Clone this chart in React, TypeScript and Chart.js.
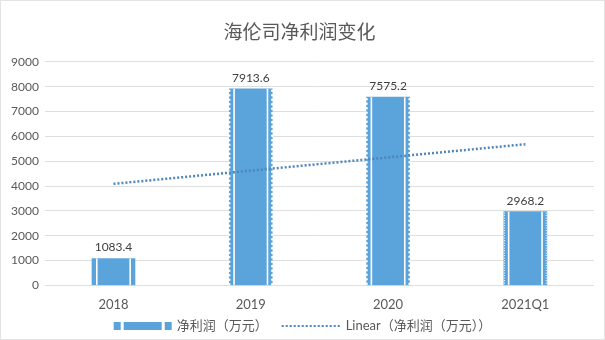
import React, { useEffect, useRef } from "react";
import { Chart, registerables } from "chart.js";

Chart.register(...registerables);

const chartTitle = "海伦司净利润变化";
const categories = ["2018", "2019", "2020", "2021Q1"];
const profitValues = [1083.4, 7913.6, 7575.2, 2968.2];
const trendValues = [4087.7, 4619.3, 5150.9, 5682.5];
const barSeriesName = "净利润（万元）";
const lineSeriesName = "Linear（净利润（万元））";
const yMin = 0;
const yMax = 9000;
const yStep = 1000;

const BAR_COLOR = "#5ba3db";
const LINE_COLOR = "#4f86ba";
const TEXT_COLOR = "#595959";
const FONT = "Lato, 'Noto Sans CJK SC', sans-serif";

const barDecor = {
  id: "barDecor",
  afterDatasetDraw(chart: any, args: any) {
    const meta = args.meta;
    if (meta.type !== "bar") return;
    const ctx = chart.ctx;
    ctx.save();
    meta.data.forEach((bar: any, i: number) => {
      const half = bar.width / 2;
      const left = bar.x - half;
      const right = bar.x + half;
      const top = bar.y;
      const bottom = bar.base;
      ctx.fillStyle = "#ffffff";
      ctx.fillRect(left + 4, top, 1.6, bottom - top);
      ctx.fillRect(right - 5.6, top, 1.6, bottom - top);
      if (i === 1 || i === 2) {
        for (let y = top + 2; y < bottom; y += 4.5) {
          ctx.beginPath();
          ctx.arc(left, y, 1.3, 0, Math.PI * 2);
          ctx.arc(right, y, 1.3, 0, Math.PI * 2);
          ctx.fill();
        }
      } else if (i === 3) {
        for (let y = top + 1; y < bottom; y += 2.5) {
          ctx.fillRect(left, y, 1.2, 0.9);
          ctx.fillRect(right - 1.2, y, 1.2, 0.9);
        }
      }
    });
    ctx.restore();
  },
};

const valueLabels = {
  id: "valueLabels",
  afterDatasetsDraw(chart: any) {
    const ctx = chart.ctx;
    chart.data.datasets.forEach((ds: any, di: number) => {
      const meta = chart.getDatasetMeta(di);
      if (meta.type !== "bar") return;
      ctx.save();
      ctx.font = `12px ${FONT}`;
      ctx.fillStyle = "#404040";
      ctx.textAlign = "center";
      ctx.textBaseline = "bottom";
      meta.data.forEach((bar: any, i: number) => {
        ctx.fillText(String(ds.data[i]), bar.x, bar.y - 5);
      });
      ctx.restore();
    });
  },
};

const customLegend = {
  id: "customLegend",
  afterDraw(chart: any) {
    const ctx = chart.ctx;
    ctx.save();
    ctx.font = `13px ${FONT}`;
    const w1 = ctx.measureText(barSeriesName).width;
    const w2 = ctx.measureText(lineSeriesName).width;
    const iconW = 58;
    const lineW = 58;
    const total = iconW + 5 + w1 + 14 + lineW + 6 + w2;
    let x = chart.width / 2 - total / 2;
    const y = chart.height - 13;
    ctx.fillStyle = BAR_COLOR;
    ctx.fillRect(x, y - 4, 7, 8);
    ctx.fillRect(x + 10, y - 4, iconW - 20, 8);
    ctx.fillRect(x + iconW - 7, y - 4, 7, 8);
    x += iconW + 5;
    ctx.fillStyle = TEXT_COLOR;
    ctx.textBaseline = "middle";
    ctx.textAlign = "left";
    ctx.fillText(barSeriesName, x, y);
    x += w1 + 14;
    ctx.strokeStyle = LINE_COLOR;
    ctx.lineWidth = 2;
    ctx.setLineDash([2, 2]);
    ctx.beginPath();
    ctx.moveTo(x, y);
    ctx.lineTo(x + lineW, y);
    ctx.stroke();
    ctx.setLineDash([]);
    x += lineW + 6;
    ctx.fillText(lineSeriesName, x, y);
    ctx.restore();
  },
};

export default function App() {
  const canvasRef = useRef<HTMLCanvasElement>(null);

  useEffect(() => {
    document.body.style.margin = "0";
    const canvas = canvasRef.current;
    if (!canvas) return;
    const chart = new Chart(canvas, {
      type: "bar",
      data: {
        labels: categories,
        datasets: [
          {
            type: "line",
            label: lineSeriesName,
            data: trendValues,
            borderColor: LINE_COLOR,
            borderWidth: 2.5,
            borderDash: [2, 2],
            pointRadius: 0,
            fill: false,
            tension: 0,
            order: 0,
          } as any,
          {
            type: "bar",
            label: barSeriesName,
            data: profitValues,
            backgroundColor: BAR_COLOR,
            barThickness: 43,
            order: 1,
          },
        ],
      },
      options: {
        animation: false,
        responsive: true,
        maintainAspectRatio: false,
        layout: { padding: { left: 4, right: 10, top: 0, bottom: 22 } },
        plugins: {
          legend: { display: false },
          tooltip: { enabled: false },
          title: {
            display: true,
            text: chartTitle,
            color: TEXT_COLOR,
            font: { family: FONT, size: 19, weight: "normal" },
            padding: { top: 20, bottom: 18 },
          },
        },
        scales: {
          x: {
            grid: { display: false },
            border: { display: false },
            ticks: {
              color: TEXT_COLOR,
              font: { family: FONT, size: 13 },
              padding: 4,
            },
          },
          y: {
            min: yMin,
            max: yMax,
            grid: { color: "#dedede", drawTicks: false },
            border: { display: false },
            ticks: {
              stepSize: yStep,
              color: TEXT_COLOR,
              font: { family: FONT, size: 12 },
              padding: 6,
              callback: (v: any) => String(v),
            },
          },
        },
      },
      plugins: [barDecor, valueLabels, customLegend],
    });
    return () => chart.destroy();
  }, []);

  return (
    <div
      style={{
        width: 605,
        height: 340,
        boxSizing: "border-box",
        border: "1px solid #e3e3e3",
        background: "#ffffff",
        position: "relative",
      }}
    >
      <canvas ref={canvasRef} />
    </div>
  );
}
